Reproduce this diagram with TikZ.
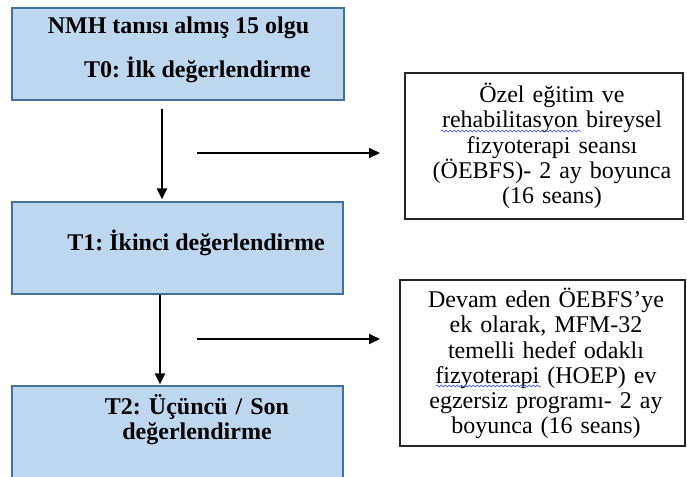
\documentclass[tikz,border=0pt]{standalone}
\usepackage{fontspec}
\setmainfont{Liberation Serif}
\usepackage{xcolor}
\usepackage{tikz}
\usetikzlibrary{arrows.meta, positioning, decorations.pathmorphing}
\definecolor{evalfill}{HTML}{BDD7EE}
\definecolor{evalline}{HTML}{41719C}
\definecolor{spellblue}{RGB}{70,90,220}
\newcommand{\evalfont}{\fontsize{12}{12.5}\selectfont\bfseries}
\newcommand{\notefont}{\fontsize{12}{12.6}\selectfont}
\AtBeginDocument{\frenchspacing\lineskiplimit=-\maxdimen\lineskip=0pt\relax}
\tikzset{
  evalbox/.style={draw=evalline, fill=evalfill, line width=0.6pt, inner sep=0pt},
  notebox/.style={draw=black!85, line width=0.6pt, inner sep=0pt, fill=white},
  evaltext/.style={font=\evalfont, align=center, inner sep=0pt},
  notetext/.style={font=\notefont, text width=140pt, align=center, inner sep=0pt},
  spellmark/.style={draw=spellblue, line width=0.35pt, decorate,
    decoration={snake, amplitude=0.45pt, segment length=2pt}},
  flow/.style={line width=1pt, -{Triangle[length=5.5pt,width=5pt]}}
}

\begin{document}
\begin{tikzpicture}[x=0.5pt, y=-0.5pt]
  \useasboundingbox (0,0) rectangle (687,477);
  \clip (0,0) rectangle (687,477);

  %% Evaluation boxes (left column)
  \node[evalbox, minimum width=166pt, minimum height=46pt] (t0) at (178,54) {};
  \node[evalbox, minimum width=165.5pt, minimum height=46pt] (t1) at (177.5,248) {};
  \node[evalbox, minimum width=165.5pt, minimum height=50pt] (t2) at (177.5,436) {};

  \node[evaltext] (t0a) at (178.5,28) {NMH tanısı almış 15 olgu};
  \node[evaltext] (t0b) at (197.5,70) {T0: İlk değerlendirme};
  \node[evaltext] (t1a) at (196,243) {T1: İkinci değerlendirme};
  \node[evaltext, text width=120pt] (t2a) at (197,419.5) {T2: Üçüncü / Son\\değerlendirme};

  %% Intervention boxes (right column)
  \node[notebox, minimum width=139pt, minimum height=73pt] (r1) at (544,146) {};
  \node[notetext] (r1a) at (552,146) {Özel eğitim ve\\rehabilitasyon bireysel\\fizyoterapi seansı\\(ÖEBFS)- 2 ay boyunca\\(16 seans)};
  \node[notebox, minimum width=142.5pt, minimum height=83pt] (r2) at (542.5,363) {};
  \node[notetext] (r2a) at (546,363.5) {Devam eden ÖEBFS’ye\\ek olarak, MFM-32\\temelli hedef odaklı\\fizyoterapi (HOEP) ev\\egzersiz programı- 2 ay\\boyunca (16 seans)};

  %% spell-check marks
  \draw[spellmark] (441,131) -- (581,131);
  \draw[spellmark] (436,386) -- (541,386);

  %% Arrows
  \draw[flow] ([xshift=-8pt,yshift=-4pt]t0.south) -- ([xshift=-7.75pt,yshift=1pt]t1.north);
  \draw[flow] ([xshift=-8.75pt]t1.south) -- ([xshift=-8.75pt,yshift=0.5pt]t2.north);
  \coordinate (h1s) at (197,153);
  \coordinate (h1e) at (380,153);
  \coordinate (h2s) at (197,339);
  \coordinate (h2e) at (380,339);
  \draw[flow] (h1s) -- (h1e);
  \draw[flow] (h2s) -- (h2e);
\end{tikzpicture}
\end{document}
